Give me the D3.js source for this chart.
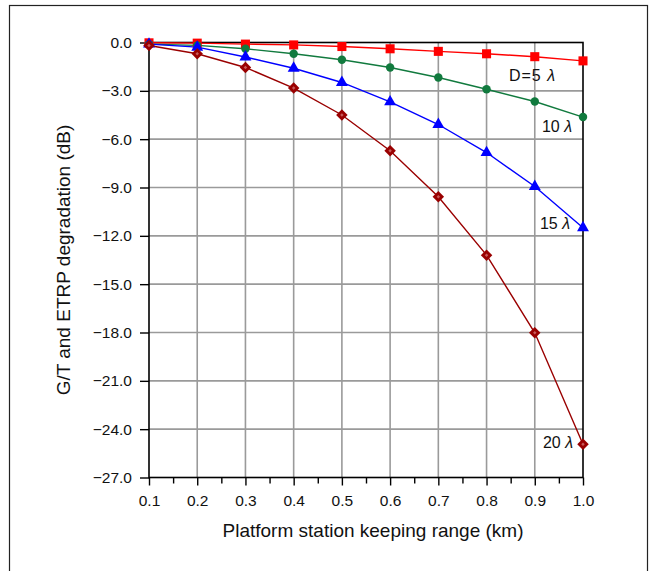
<!DOCTYPE html>
<html>
<head>
<meta charset="utf-8">
<script src="https://cdn.jsdelivr.net/npm/d3@7"></script>
<style>
  body { margin: 0; background: #fff; }
  svg text { font-family: "Liberation Sans", Arial, sans-serif; fill: #111; }
</style>
</head>
<body>
<svg id="chart" width="653" height="571"></svg>
<script>
// x values (km)
var ranges = [0.1, 0.2, 0.3, 0.4, 0.5, 0.6, 0.7, 0.8, 0.9, 1.0];
// degradation per antenna size (dB)
var d5 = [-0.02, -0.04, -0.1, -0.15, -0.25, -0.39, -0.55, -0.7, -0.88, -1.14];
var d10 = [-0.1, -0.18, -0.39, -0.7, -1.07, -1.55, -2.17, -2.9, -3.66, -4.63];
var d15 = [-0.1, -0.29, -0.9, -1.6, -2.48, -3.68, -5.09, -6.83, -8.94, -11.5];
var d20 = [-0.19, -0.7, -1.55, -2.83, -4.5, -6.72, -9.58, -13.2, -18.02, -24.94];
var yTicks = [0, -3, -6, -9, -12, -15, -18, -21, -24, -27];
var seriesNames = ['D=5 ', '10 ', '15 ', '20 '];

var svg = d3.select('#chart');

// outer frame
svg.append('rect')
  .attr('x', 9.5).attr('y', 5.5)
  .attr('width', 638).attr('height', 600)
  .attr('fill', 'none').attr('stroke', '#222').attr('stroke-width', 1.2);

var plotL = 149, plotR = 583, plotT = 42.5, plotB = 477.5;

var x = d3.scaleLinear().domain([0.1, 1.0]).range([plotL, plotR]);
var y = d3.scaleLinear().domain([0, -27]).range([plotT, plotB]);

// grid
var grid = svg.append('g');
grid.selectAll('line.v')
  .data(ranges.slice(1, -1))
  .enter().append('line')
  .attr('x1', function(d) { return x(d); }).attr('x2', function(d) { return x(d); })
  .attr('y1', plotT).attr('y2', plotB)
  .attr('stroke', '#9a9a9a').attr('stroke-width', 1.6);
grid.selectAll('line.h')
  .data(yTicks.slice(1, -1))
  .enter().append('line')
  .attr('y1', function(d) { return y(d); }).attr('y2', function(d) { return y(d); })
  .attr('x1', plotL).attr('x2', plotR)
  .attr('stroke', '#9a9a9a').attr('stroke-width', 1.6);

// plot box
svg.append('rect')
  .attr('x', plotL).attr('y', plotT)
  .attr('width', plotR - plotL).attr('height', plotB - plotT)
  .attr('fill', 'none').attr('stroke', '#000').attr('stroke-width', 1.6);

// x axis (major + minor ticks)
var xAxis = svg.append('g')
  .attr('transform', 'translate(0,' + plotB + ')')
  .call(d3.axisBottom(x).tickValues(ranges).tickSize(8).tickSizeOuter(0)
    .tickFormat(d3.format('.1f')));
xAxis.select('.domain').remove();
xAxis.selectAll('line').attr('stroke', '#000').attr('stroke-width', 1.4);
xAxis.selectAll('text').attr('font-size', 15.5).attr('y', 28).attr('dy', 0);

svg.append('g')
  .attr('transform', 'translate(0,' + plotB + ')')
  .call(d3.axisBottom(x).tickValues(d3.range(0.15, 1.0, 0.1)).tickSize(6).tickFormat(''))
  .call(function(g) {
    g.select('.domain').remove();
    g.selectAll('line').attr('stroke', '#000').attr('stroke-width', 1.4);
  });

// y axis
var yAxis = svg.append('g')
  .attr('transform', 'translate(' + plotL + ',0)')
  .call(d3.axisLeft(y).tickValues(yTicks).tickSize(9)
    .tickFormat(function(d) { return d === 0 ? '0.0' : '\u2212' + d3.format('.1f')(-d); }));
yAxis.select('.domain').remove();
yAxis.selectAll('line').attr('stroke', '#000').attr('stroke-width', 1.4);
yAxis.selectAll('text').attr('font-size', 15.5).attr('x', -17);

// axis titles
svg.append('text')
  .attr('x', (plotL + plotR) / 2 + 7).attr('y', 537)
  .attr('text-anchor', 'middle').attr('font-size', 19)
  .text('Platform station keeping range (km)');
svg.append('text')
  .attr('transform', 'translate(70,' + (plotT + plotB) / 2 + ') rotate(-90)')
  .attr('text-anchor', 'middle').attr('font-size', 19)
  .text('G/T and ETRP degradation (dB)');

// series
var line = d3.line()
  .x(function(d, i) { return x(ranges[i]); })
  .y(function(d) { return y(d); });

var series = [
  { values: d5, color: '#ff0000', symbol: d3.symbolSquare, size: 82, rot: 0 },
  { values: d10, color: '#117a3e', symbol: d3.symbolCircle, size: 56, rot: 0 },
  { values: d15, color: '#0000ff', symbol: d3.symbolTriangle, size: 62, rot: 0 },
  { values: d20, color: '#9a0000', symbol: d3.symbolSquare, size: 66, rot: 45 }
];

series.forEach(function(s) {
  svg.append('path')
    .datum(s.values)
    .attr('d', line)
    .attr('fill', 'none')
    .attr('stroke', s.color)
    .attr('stroke-width', 1.4);
});

series.forEach(function(s) {
  var pts = svg.selectAll(null)
    .data(s.values)
    .enter().append('g')
    .attr('transform', function(d, i) {
      return 'translate(' + x(ranges[i]) + ',' + y(d) + ') rotate(' + s.rot + ')';
    });
  pts.append('path')
    .attr('d', d3.symbol().type(s.symbol).size(s.size))
    .attr('fill', s.color);
  if (s.rot) {
    // lighter core, like the hollow-looking diamonds in the source
    pts.append('path')
      .attr('d', d3.symbol().type(d3.symbolSquare).size(6))
      .attr('fill', '#c85a5a');
  }
});

// curve labels
var labelPos = [[556, 81], [572, 132], [570, 229], [573, 448]];
labelPos.forEach(function(p, i) {
  var t = svg.append('text')
    .attr('x', p[0]).attr('y', p[1])
    .attr('text-anchor', 'end').attr('font-size', 16)
    .attr('letter-spacing', i === 0 ? 1 : 0);
  t.append('tspan').text(seriesNames[i]);
  t.append('tspan').attr('font-style', 'italic').text('\u03bb');
});
</script>
</body>
</html>
